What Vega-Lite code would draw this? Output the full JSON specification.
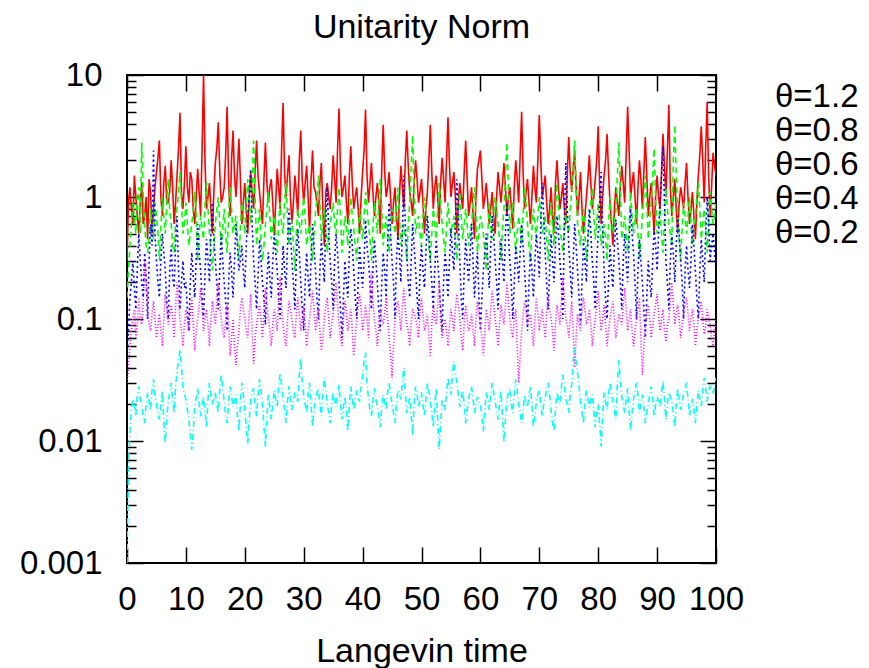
{
  "$schema": "https://vega.github.io/schema/vega-lite/v6.json",
  "width": 589,
  "height": 488,
  "autosize": {"type": "none"},
  "padding": {"left": 127, "top": 75, "right": 153, "bottom": 105},
  "title": {"text": "Unitarity Norm", "fontSize": 34, "fontWeight": "normal", "offset": 14, "color": "#000"},
  "data": {"values": [
{"t":0,"th12":0.3,"th08":0.15,"th06":0.05,"th04":0.03,"th02":0.001},
{"t":0.5,"th12":1.2,"th08":0.4,"th06":0.15,"th04":0.06,"th02":0.012},
{"t":1,"th12":0.6,"th08":0.9,"th06":0.3,"th04":0.1,"th02":0.022},
{"t":1.5,"th12":1.0,"th08":0.5,"th06":0.12,"th04":0.07,"th02":0.016},
{"t":2,"th12":0.5,"th08":1.2,"th06":0.5,"th04":0.15,"th02":0.028},
{"t":2.5,"th12":1.3,"th08":2.8,"th06":0.2,"th04":0.09,"th02":0.019},
{"t":3,"th12":0.7,"th08":0.6,"th06":0.35,"th04":0.3,"th02":0.014},
{"t":3.5,"th12":0.45,"th08":0.35,"th06":0.1,"th04":0.12,"th02":0.025},
{"t":4,"th12":1.1,"th08":0.8,"th06":0.6,"th04":0.08,"th02":0.018},
{"t":4.5,"th12":0.8,"th08":0.45,"th06":2.4,"th04":0.14,"th02":0.032},
{"t":5,"th12":1.6,"th08":0.7,"th06":0.3,"th04":0.07,"th02":0.02},
{"t":5.5,"th12":2.9,"th08":0.3,"th06":0.15,"th04":0.11,"th02":0.015},
{"t":6,"th12":0.7,"th08":1.0,"th06":0.5,"th04":0.06,"th02":0.026},
{"t":6.5,"th12":1.8,"th08":0.5,"th06":0.25,"th04":0.16,"th02":0.0096},
{"t":7,"th12":0.9,"th08":1.4,"th06":0.1,"th04":0.09,"th02":0.021},
{"t":7.5,"th12":2.0,"th08":0.6,"th06":0.4,"th04":0.13,"th02":0.03},
{"t":8,"th12":0.6,"th08":0.35,"th06":0.18,"th04":0.07,"th02":0.017},
{"t":8.5,"th12":1.5,"th08":0.8,"th06":0.7,"th04":0.2,"th02":0.038},
{"t":9,"th12":4.9,"th08":1.6,"th06":0.12,"th04":0.1,"th02":0.056},
{"t":9.5,"th12":0.8,"th08":0.5,"th06":0.3,"th04":0.06,"th02":0.028},
{"t":10,"th12":2.6,"th08":0.9,"th06":0.2,"th04":0.12,"th02":0.022},
{"t":10.5,"th12":0.9,"th08":0.4,"th06":0.08,"th04":0.08,"th02":0.015},
{"t":11,"th12":1.4,"th08":0.6,"th06":0.35,"th04":0.15,"th02":0.0085},
{"t":11.5,"th12":0.6,"th08":1.1,"th06":0.15,"th04":0.055,"th02":0.019},
{"t":12,"th12":1.7,"th08":0.3,"th06":0.6,"th04":0.1,"th02":0.027},
{"t":12.5,"th12":0.7,"th08":0.7,"th06":0.25,"th04":0.18,"th02":0.016},
{"t":13,"th12":10,"th08":0.45,"th06":0.1,"th04":0.08,"th02":0.023},
{"t":13.5,"th12":0.8,"th08":1.3,"th06":0.45,"th04":0.12,"th02":0.013},
{"t":14,"th12":1.3,"th08":0.5,"th06":0.2,"th04":0.06,"th02":0.03},
{"t":14.5,"th12":0.5,"th08":0.25,"th06":0.9,"th04":0.14,"th02":0.02},
{"t":15,"th12":1.9,"th08":0.6,"th06":0.3,"th04":0.09,"th02":0.025},
{"t":15.5,"th12":4.1,"th08":1.0,"th06":0.12,"th04":0.2,"th02":0.017},
{"t":16,"th12":0.9,"th08":0.4,"th06":0.5,"th04":0.1,"th02":0.035},
{"t":16.5,"th12":1.2,"th08":0.8,"th06":0.2,"th04":0.07,"th02":0.021},
{"t":17,"th12":5.5,"th08":0.35,"th06":0.08,"th04":0.13,"th02":0.014},
{"t":17.5,"th12":0.7,"th08":1.2,"th06":0.35,"th04":0.05,"th02":0.028},
{"t":18,"th12":3.5,"th08":0.5,"th06":0.15,"th04":0.1,"th02":0.019},
{"t":18.5,"th12":1.0,"th08":0.7,"th06":0.6,"th04":0.042,"th02":0.024},
{"t":19,"th12":3.0,"th08":0.3,"th06":0.25,"th04":0.08,"th02":0.012},
{"t":19.5,"th12":0.6,"th08":0.9,"th06":0.4,"th04":0.15,"th02":0.03},
{"t":20,"th12":1.3,"th08":0.5,"th06":0.18,"th04":0.1,"th02":0.018},
{"t":20.5,"th12":0.5,"th08":1.4,"th06":0.7,"th04":0.07,"th02":0.0095},
{"t":21,"th12":1.6,"th08":0.6,"th06":1.7,"th04":0.16,"th02":0.022},
{"t":21.5,"th12":0.8,"th08":2.9,"th06":0.3,"th04":0.043,"th02":0.027},
{"t":22,"th12":2.9,"th08":0.4,"th06":0.12,"th04":0.09,"th02":0.016},
{"t":22.5,"th12":1.1,"th08":0.8,"th06":0.45,"th04":0.13,"th02":0.032},
{"t":23,"th12":0.6,"th08":0.3,"th06":0.2,"th04":0.07,"th02":0.02},
{"t":23.5,"th12":2.8,"th08":0.6,"th06":0.09,"th04":0.18,"th02":0.009},
{"t":24,"th12":0.9,"th08":1.1,"th06":0.35,"th04":0.1,"th02":0.024},
{"t":24.5,"th12":1.4,"th08":0.45,"th06":0.15,"th04":0.06,"th02":0.015},
{"t":25,"th12":0.5,"th08":0.7,"th06":0.5,"th04":0.12,"th02":0.026},
{"t":25.5,"th12":1.7,"th08":0.35,"th06":0.25,"th04":0.08,"th02":0.019},
{"t":26,"th12":0.8,"th08":0.9,"th06":0.1,"th04":0.22,"th02":0.036},
{"t":26.5,"th12":5.9,"th08":0.5,"th06":0.4,"th04":0.09,"th02":0.022},
{"t":27,"th12":1.0,"th08":1.3,"th06":0.18,"th04":0.06,"th02":0.014},
{"t":27.5,"th12":2.2,"th08":0.4,"th06":0.8,"th04":0.14,"th02":0.028},
{"t":28,"th12":0.6,"th08":0.65,"th06":0.3,"th04":0.1,"th02":0.018},
{"t":28.5,"th12":1.5,"th08":0.25,"th06":0.12,"th04":0.07,"th02":0.025},
{"t":29,"th12":0.7,"th08":0.8,"th06":0.55,"th04":0.15,"th02":0.021},
{"t":29.5,"th12":3.5,"th08":0.5,"th06":0.2,"th04":0.08,"th02":0.048},
{"t":30,"th12":0.9,"th08":1.0,"th06":0.08,"th04":0.13,"th02":0.024},
{"t":30.5,"th12":1.8,"th08":0.4,"th06":0.35,"th04":0.06,"th02":0.017},
{"t":31,"th12":0.5,"th08":0.6,"th06":0.15,"th04":0.1,"th02":0.03},
{"t":31.5,"th12":2.4,"th08":0.3,"th06":0.6,"th04":0.17,"th02":0.013},
{"t":32,"th12":1.1,"th08":0.75,"th06":0.25,"th04":0.08,"th02":0.022},
{"t":32.5,"th12":0.7,"th08":1.5,"th06":0.1,"th04":0.12,"th02":0.027},
{"t":33,"th12":1.9,"th08":0.45,"th06":0.45,"th04":0.055,"th02":0.016},
{"t":33.5,"th12":0.4,"th08":0.8,"th06":0.2,"th04":0.1,"th02":0.033},
{"t":34,"th12":1.3,"th08":0.35,"th06":1.2,"th04":0.15,"th02":0.02},
{"t":34.5,"th12":0.8,"th08":0.6,"th06":0.3,"th04":0.07,"th02":0.014},
{"t":35,"th12":2.2,"th08":0.9,"th06":0.12,"th04":0.11,"th02":0.025},
{"t":35.5,"th12":0.9,"th08":0.5,"th06":0.5,"th04":0.2,"th02":0.019},
{"t":36,"th12":5.3,"th08":1.2,"th06":0.2,"th04":0.09,"th02":0.029},
{"t":36.5,"th12":1.0,"th08":0.35,"th06":0.07,"th04":0.06,"th02":0.015},
{"t":37,"th12":1.5,"th08":0.7,"th06":0.3,"th04":0.14,"th02":0.023},
{"t":37.5,"th12":0.6,"th08":0.4,"th06":0.15,"th04":0.08,"th02":0.012},
{"t":38,"th12":2.6,"th08":1.0,"th06":0.55,"th04":0.12,"th02":0.028},
{"t":38.5,"th12":0.8,"th08":0.55,"th06":0.25,"th04":0.05,"th02":0.018},
{"t":39,"th12":1.2,"th08":0.3,"th06":0.1,"th04":0.1,"th02":0.026},
{"t":39.5,"th12":0.5,"th08":0.8,"th06":0.4,"th04":0.16,"th02":0.021},
{"t":40,"th12":1.6,"th08":0.45,"th06":0.18,"th04":0.08,"th02":0.034},
{"t":40.5,"th12":5.2,"th08":1.1,"th06":0.65,"th04":0.13,"th02":0.053},
{"t":41,"th12":0.9,"th08":0.6,"th06":0.3,"th04":0.07,"th02":0.022},
{"t":41.5,"th12":1.9,"th08":0.3,"th06":0.12,"th04":0.25,"th02":0.016},
{"t":42,"th12":0.7,"th08":0.9,"th06":0.45,"th04":0.1,"th02":0.027},
{"t":42.5,"th12":1.3,"th08":0.5,"th06":0.2,"th04":0.06,"th02":0.019},
{"t":43,"th12":0.5,"th08":1.4,"th06":0.08,"th04":0.12,"th02":0.013},
{"t":43.5,"th12":3.9,"th08":0.4,"th06":0.35,"th04":0.09,"th02":0.024},
{"t":44,"th12":1.0,"th08":0.7,"th06":0.15,"th04":0.15,"th02":0.018},
{"t":44.5,"th12":1.6,"th08":0.35,"th06":0.9,"th04":0.07,"th02":0.03},
{"t":45,"th12":0.6,"th08":0.8,"th06":0.3,"th04":0.033,"th02":0.02},
{"t":45.5,"th12":1.2,"th08":0.5,"th06":0.1,"th04":0.1,"th02":0.014},
{"t":46,"th12":0.45,"th08":1.2,"th06":0.5,"th04":0.14,"th02":0.026},
{"t":46.5,"th12":1.8,"th08":0.4,"th06":0.2,"th04":0.08,"th02":0.022},
{"t":47,"th12":0.8,"th08":0.6,"th06":1.5,"th04":0.18,"th02":0.04},
{"t":47.5,"th12":3.5,"th08":0.3,"th06":0.35,"th04":0.09,"th02":0.017},
{"t":48,"th12":1.1,"th08":0.9,"th06":0.15,"th04":0.06,"th02":0.023},
{"t":48.5,"th12":0.7,"th08":3.2,"th06":0.6,"th04":0.12,"th02":0.011},
{"t":49,"th12":2.0,"th08":0.5,"th06":0.25,"th04":0.1,"th02":0.028},
{"t":49.5,"th12":0.9,"th08":0.7,"th06":0.1,"th04":0.07,"th02":0.019},
{"t":50,"th12":1.4,"th08":0.4,"th06":0.4,"th04":0.15,"th02":0.025},
{"t":50.5,"th12":0.5,"th08":1.0,"th06":0.18,"th04":0.08,"th02":0.016},
{"t":51,"th12":1.1,"th08":0.55,"th06":0.7,"th04":0.11,"th02":0.03},
{"t":51.5,"th12":3.9,"th08":0.3,"th06":0.3,"th04":0.05,"th02":0.021},
{"t":52,"th12":0.8,"th08":0.8,"th06":0.12,"th04":0.13,"th02":0.013},
{"t":52.5,"th12":1.5,"th08":0.45,"th06":0.45,"th04":0.09,"th02":0.027},
{"t":53,"th12":0.6,"th08":1.3,"th06":0.2,"th04":0.2,"th02":0.0085},
{"t":53.5,"th12":2.1,"th08":0.6,"th06":0.08,"th04":0.07,"th02":0.022},
{"t":54,"th12":0.9,"th08":0.35,"th06":0.35,"th04":0.1,"th02":0.018},
{"t":54.5,"th12":4.5,"th08":0.9,"th06":0.15,"th04":0.06,"th02":0.033},
{"t":55,"th12":1.0,"th08":0.5,"th06":0.55,"th04":0.12,"th02":0.024},
{"t":55.5,"th12":1.6,"th08":0.7,"th06":0.25,"th04":0.08,"th02":0.045},
{"t":56,"th12":0.5,"th08":0.3,"th06":1.4,"th04":0.16,"th02":0.03},
{"t":56.5,"th12":1.3,"th08":1.1,"th06":0.3,"th04":0.1,"th02":0.019},
{"t":57,"th12":0.8,"th08":0.45,"th06":0.1,"th04":0.055,"th02":0.026},
{"t":57.5,"th12":2.9,"th08":0.8,"th06":0.45,"th04":0.13,"th02":0.014},
{"t":58,"th12":0.7,"th08":0.4,"th06":0.2,"th04":0.08,"th02":0.022},
{"t":58.5,"th12":1.2,"th08":0.6,"th06":0.6,"th04":0.11,"th02":0.028},
{"t":59,"th12":0.45,"th08":1.2,"th06":0.15,"th04":0.06,"th02":0.017},
{"t":59.5,"th12":1.7,"th08":0.35,"th06":0.35,"th04":0.14,"th02":0.023},
{"t":60,"th12":2.4,"th08":0.7,"th06":0.08,"th04":0.09,"th02":0.02},
{"t":60.5,"th12":0.8,"th08":0.5,"th06":0.25,"th04":0.05,"th02":0.012},
{"t":61,"th12":1.3,"th08":0.25,"th06":0.5,"th04":0.12,"th02":0.025},
{"t":61.5,"th12":0.6,"th08":0.9,"th06":0.18,"th04":0.08,"th02":0.018},
{"t":62,"th12":1.1,"th08":0.45,"th06":0.7,"th04":0.17,"th02":0.03},
{"t":62.5,"th12":0.5,"th08":1.0,"th06":0.3,"th04":0.1,"th02":0.021},
{"t":63,"th12":1.6,"th08":0.6,"th06":0.12,"th04":0.06,"th02":0.015},
{"t":63.5,"th12":0.9,"th08":0.3,"th06":0.45,"th04":0.13,"th02":0.026},
{"t":64,"th12":1.9,"th08":0.8,"th06":0.2,"th04":0.09,"th02":0.0097},
{"t":64.5,"th12":0.7,"th08":2.8,"th06":0.9,"th04":0.2,"th02":0.022},
{"t":65,"th12":1.2,"th08":0.5,"th06":0.3,"th04":0.1,"th02":0.027},
{"t":65.5,"th12":0.55,"th08":0.9,"th06":0.1,"th04":0.07,"th02":0.017},
{"t":66,"th12":2.0,"th08":0.35,"th06":0.4,"th04":0.12,"th02":0.032},
{"t":66.5,"th12":0.9,"th08":0.7,"th06":0.2,"th04":0.03,"th02":0.02},
{"t":67,"th12":5.0,"th08":0.4,"th06":0.6,"th04":0.08,"th02":0.014},
{"t":67.5,"th12":0.8,"th08":1.2,"th06":0.25,"th04":0.14,"th02":0.024},
{"t":68,"th12":1.4,"th08":0.6,"th06":0.08,"th04":0.09,"th02":0.019},
{"t":68.5,"th12":0.6,"th08":0.3,"th06":0.35,"th04":0.11,"th02":0.028},
{"t":69,"th12":1.8,"th08":0.8,"th06":0.15,"th04":0.06,"th02":0.013},
{"t":69.5,"th12":0.9,"th08":0.45,"th06":0.5,"th04":0.15,"th02":0.021},
{"t":70,"th12":4.7,"th08":1.0,"th06":0.22,"th04":0.08,"th02":0.026},
{"t":70.5,"th12":1.0,"th08":0.5,"th06":1.3,"th04":0.12,"th02":0.016},
{"t":71,"th12":1.5,"th08":0.7,"th06":0.35,"th04":0.07,"th02":0.023},
{"t":71.5,"th12":0.6,"th08":0.3,"th06":0.12,"th04":0.16,"th02":0.03},
{"t":72,"th12":1.2,"th08":0.9,"th06":0.5,"th04":0.1,"th02":0.018},
{"t":72.5,"th12":0.5,"th08":0.4,"th06":0.2,"th04":0.055,"th02":0.012},
{"t":73,"th12":2.0,"th08":1.3,"th06":0.7,"th04":0.13,"th02":0.025},
{"t":73.5,"th12":0.8,"th08":0.55,"th06":0.3,"th04":0.09,"th02":0.02},
{"t":74,"th12":1.3,"th08":0.35,"th06":0.1,"th04":0.22,"th02":0.035},
{"t":74.5,"th12":0.6,"th08":0.8,"th06":1.9,"th04":0.1,"th02":0.022},
{"t":75,"th12":3.1,"th08":0.5,"th06":0.4,"th04":0.07,"th02":0.017},
{"t":75.5,"th12":1.1,"th08":1.1,"th06":0.15,"th04":0.14,"th02":0.029},
{"t":76,"th12":2.4,"th08":2.9,"th06":0.6,"th04":0.04,"th02":0.058},
{"t":76.5,"th12":0.7,"th08":0.6,"th06":0.25,"th04":0.11,"th02":0.036},
{"t":77,"th12":1.6,"th08":0.4,"th06":0.09,"th04":0.08,"th02":0.021},
{"t":77.5,"th12":0.5,"th08":0.8,"th06":0.45,"th04":0.15,"th02":0.014},
{"t":78,"th12":1.0,"th08":0.3,"th06":0.2,"th04":0.09,"th02":0.026},
{"t":78.5,"th12":2.2,"th08":0.7,"th06":0.8,"th04":0.12,"th02":0.019},
{"t":79,"th12":0.8,"th08":1.2,"th06":0.3,"th04":0.06,"th02":0.024},
{"t":79.5,"th12":1.4,"th08":0.45,"th06":0.12,"th04":0.1,"th02":0.013},
{"t":80,"th12":3.8,"th08":0.9,"th06":0.5,"th04":0.17,"th02":0.02},
{"t":80.5,"th12":0.6,"th08":0.4,"th06":1.6,"th04":0.08,"th02":0.009},
{"t":81,"th12":1.5,"th08":0.6,"th06":0.25,"th04":0.13,"th02":0.025},
{"t":81.5,"th12":3.3,"th08":0.3,"th06":0.1,"th04":0.06,"th02":0.018},
{"t":82,"th12":0.9,"th08":1.0,"th06":0.4,"th04":0.1,"th02":0.03},
{"t":82.5,"th12":0.4,"th08":0.5,"th06":0.18,"th04":0.14,"th02":0.021},
{"t":83,"th12":1.2,"th08":0.8,"th06":0.65,"th04":0.07,"th02":0.015},
{"t":83.5,"th12":0.7,"th08":2.8,"th06":0.3,"th04":0.11,"th02":0.046},
{"t":84,"th12":1.8,"th08":0.45,"th06":0.12,"th04":0.09,"th02":0.023},
{"t":84.5,"th12":0.9,"th08":0.7,"th06":0.5,"th04":0.18,"th02":0.017},
{"t":85,"th12":5.5,"th08":0.35,"th06":0.2,"th04":0.08,"th02":0.027},
{"t":85.5,"th12":1.0,"th08":1.1,"th06":0.8,"th04":0.12,"th02":0.012},
{"t":86,"th12":1.6,"th08":0.5,"th06":0.35,"th04":0.06,"th02":0.022},
{"t":86.5,"th12":0.6,"th08":0.8,"th06":0.1,"th04":0.1,"th02":0.03},
{"t":87,"th12":2.0,"th08":0.3,"th06":0.45,"th04":0.15,"th02":0.017},
{"t":87.5,"th12":0.8,"th08":0.7,"th06":0.2,"th04":0.035,"th02":0.024},
{"t":88,"th12":3.1,"th08":1.5,"th06":0.07,"th04":0.09,"th02":0.014},
{"t":88.5,"th12":0.7,"th08":0.45,"th06":0.3,"th04":0.13,"th02":0.02},
{"t":89,"th12":1.3,"th08":0.9,"th06":0.15,"th04":0.07,"th02":0.028},
{"t":89.5,"th12":0.5,"th08":2.5,"th06":0.55,"th04":0.11,"th02":0.016},
{"t":90,"th12":1.5,"th08":0.5,"th06":0.25,"th04":0.16,"th02":0.023},
{"t":90.5,"th12":0.8,"th08":0.8,"th06":0.9,"th04":0.08,"th02":0.019},
{"t":91,"th12":3.3,"th08":0.35,"th06":2.6,"th04":0.12,"th02":0.031},
{"t":91.5,"th12":1.0,"th08":1.2,"th06":0.3,"th04":0.065,"th02":0.015},
{"t":92,"th12":5.7,"th08":0.6,"th06":0.12,"th04":0.1,"th02":0.025},
{"t":92.5,"th12":0.7,"th08":0.4,"th06":0.5,"th04":0.2,"th02":0.021},
{"t":93,"th12":1.4,"th08":3.9,"th06":0.2,"th04":0.09,"th02":0.013},
{"t":93.5,"th12":0.5,"th08":0.7,"th06":0.7,"th04":0.13,"th02":0.027},
{"t":94,"th12":1.2,"th08":0.3,"th06":0.3,"th04":0.07,"th02":0.018},
{"t":94.5,"th12":0.8,"th08":0.9,"th06":0.1,"th04":0.11,"th02":0.024},
{"t":95,"th12":1.9,"th08":0.5,"th06":0.4,"th04":0.15,"th02":0.03},
{"t":95.5,"th12":0.6,"th08":1.0,"th06":0.18,"th04":0.08,"th02":0.016},
{"t":96,"th12":1.1,"th08":0.4,"th06":0.6,"th04":0.12,"th02":0.022},
{"t":96.5,"th12":0.45,"th08":0.7,"th06":0.25,"th04":0.06,"th02":0.014},
{"t":97,"th12":1.5,"th08":1.3,"th06":0.1,"th04":0.1,"th02":0.026},
{"t":97.5,"th12":3.8,"th08":0.45,"th06":0.45,"th04":0.14,"th02":0.019},
{"t":98,"th12":0.9,"th08":0.8,"th06":0.2,"th04":0.075,"th02":0.033},
{"t":98.5,"th12":6.0,"th08":0.35,"th06":1.0,"th04":0.12,"th02":0.021},
{"t":99,"th12":0.7,"th08":1.1,"th06":0.3,"th04":0.09,"th02":0.028},
{"t":99.5,"th12":2.3,"th08":0.6,"th06":0.5,"th04":0.06,"th02":0.024},
{"t":100,"th12":1.5,"th08":0.9,"th06":0.25,"th04":0.1,"th02":0.033},
{"t":0.25,"th12":0.9,"th08":0.25,"th06":0.08,"th04":0.04,"th02":0.006},
{"t":0.75,"th12":0.8,"th08":0.6,"th06":0.2,"th04":0.08,"th02":0.018},
{"t":1.25,"th12":1.5,"th08":0.7,"th06":0.18,"th04":0.12,"th02":0.02},
{"t":1.75,"th12":0.7,"th08":1.0,"th06":0.25,"th04":0.09,"th02":0.024},
{"t":2.25,"th12":0.9,"th08":0.5,"th06":0.3,"th04":0.1,"th02":0.022},
{"t":2.75,"th12":0.6,"th08":1.1,"th06":0.15,"th04":0.14,"th02":0.016},
{"t":3.25,"th12":1.0,"th08":0.4,"th06":0.22,"th04":0.2,"th02":0.02},
{"t":3.75,"th12":1.4,"th08":0.5,"th06":0.3,"th04":0.09,"th02":0.021},
{"t":4.25,"th12":0.5,"th08":0.6,"th06":0.4,"th04":0.11,"th02":0.026},
{"t":4.75,"th12":1.2,"th08":0.9,"th06":0.5,"th04":0.1,"th02":0.024},
{"t":5.25,"th12":2.1,"th08":0.5,"th06":0.2,"th04":0.09,"th02":0.017},
{"t":5.75,"th12":1.0,"th08":0.55,"th06":0.3,"th04":0.08,"th02":0.02},
{"t":6.25,"th12":1.3,"th08":0.7,"th06":0.35,"th04":0.1,"th02":0.014},
{"t":6.75,"th12":0.9,"th08":0.9,"th06":0.14,"th04":0.12,"th02":0.016},
{"t":7.25,"th12":1.1,"th08":0.8,"th06":0.25,"th04":0.11,"th02":0.025},
{"t":7.75,"th12":1.2,"th08":0.4,"th06":0.22,"th04":0.1,"th02":0.022},
{"t":8.25,"th12":0.9,"th08":0.6,"th06":0.4,"th04":0.13,"th02":0.028},
{"t":8.75,"th12":2.5,"th08":1.1,"th06":0.25,"th04":0.14,"th02":0.045},
{"t":9.25,"th12":1.1,"th08":0.9,"th06":0.2,"th04":0.08,"th02":0.04},
{"t":9.75,"th12":1.3,"th08":0.6,"th06":0.18,"th04":0.09,"th02":0.024},
{"t":10.25,"th12":1.2,"th08":0.6,"th06":0.12,"th04":0.1,"th02":0.018},
{"t":10.75,"th12":1.6,"th08":0.5,"th06":0.2,"th04":0.11,"th02":0.011},
{"t":11.25,"th12":0.8,"th08":0.8,"th06":0.22,"th04":0.09,"th02":0.012},
{"t":11.75,"th12":1.0,"th08":0.7,"th06":0.3,"th04":0.08,"th02":0.023},
{"t":12.25,"th12":1.1,"th08":0.5,"th06":0.35,"th04":0.13,"th02":0.02},
{"t":12.75,"th12":2.5,"th08":0.55,"th06":0.15,"th04":0.12,"th02":0.02},
{"t":13.25,"th12":1.9,"th08":0.9,"th06":0.25,"th04":0.1,"th02":0.017},
{"t":13.75,"th12":1.0,"th08":0.8,"th06":0.3,"th04":0.09,"th02":0.022},
{"t":14.25,"th12":0.8,"th08":0.35,"th06":0.5,"th04":0.1,"th02":0.024},
{"t":14.75,"th12":1.1,"th08":0.4,"th06":0.45,"th04":0.11,"th02":0.022},
{"t":15.25,"th12":2.5,"th08":0.8,"th06":0.2,"th04":0.14,"th02":0.02},
{"t":15.75,"th12":1.6,"th08":0.6,"th06":0.25,"th04":0.13,"th02":0.026},
{"t":16.25,"th12":1.0,"th08":0.55,"th06":0.3,"th04":0.08,"th02":0.028},
{"t":16.75,"th12":2.2,"th08":0.5,"th06":0.14,"th04":0.1,"th02":0.016},
{"t":17.25,"th12":1.4,"th08":0.7,"th06":0.2,"th04":0.09,"th02":0.02},
{"t":17.75,"th12":2.0,"th08":0.8,"th06":0.25,"th04":0.07,"th02":0.024},
{"t":18.25,"th12":1.5,"th08":0.6,"th06":0.3,"th04":0.06,"th02":0.021},
{"t":18.75,"th12":1.7,"th08":0.45,"th06":0.4,"th04":0.06,"th02":0.016},
{"t":19.25,"th12":1.4,"th08":0.55,"th06":0.3,"th04":0.12,"th02":0.02},
{"t":19.75,"th12":0.9,"th08":0.7,"th06":0.25,"th04":0.12,"th02":0.024},
{"t":20.25,"th12":0.8,"th08":0.9,"th06":0.4,"th04":0.08,"th02":0.013},
{"t":20.75,"th12":1.0,"th08":0.9,"th06":1.0,"th04":0.11,"th02":0.015},
{"t":21.25,"th12":1.1,"th08":1.2,"th06":0.6,"th04":0.08,"th02":0.025},
{"t":21.75,"th12":1.6,"th08":1.0,"th06":0.2,"th04":0.07,"th02":0.02},
{"t":22.25,"th12":1.5,"th08":0.6,"th06":0.22,"th04":0.11,"th02":0.024},
{"t":22.75,"th12":0.8,"th08":0.45,"th06":0.3,"th04":0.1,"th02":0.026},
{"t":23.25,"th12":1.4,"th08":0.4,"th06":0.15,"th04":0.12,"th02":0.013},
{"t":23.75,"th12":1.3,"th08":0.8,"th06":0.2,"th04":0.14,"th02":0.016},
{"t":24.25,"th12":1.2,"th08":0.7,"th06":0.22,"th04":0.08,"th02":0.019},
{"t":24.75,"th12":0.9,"th08":0.6,"th06":0.3,"th04":0.09,"th02":0.02},
{"t":25.25,"th12":0.9,"th08":0.5,"th06":0.35,"th04":0.1,"th02":0.022},
{"t":25.75,"th12":1.2,"th08":0.6,"th06":0.15,"th04":0.14,"th02":0.028},
{"t":26.25,"th12":2.5,"th08":0.6,"th06":0.2,"th04":0.12,"th02":0.028},
{"t":26.75,"th12":1.6,"th08":0.9,"th06":0.25,"th04":0.07,"th02":0.018},
{"t":27.25,"th12":1.5,"th08":0.7,"th06":0.4,"th04":0.1,"th02":0.021},
{"t":27.75,"th12":1.0,"th08":0.55,"th06":0.5,"th04":0.12,"th02":0.022},
{"t":28.25,"th12":0.9,"th08":0.4,"th06":0.2,"th04":0.08,"th02":0.021},
{"t":28.75,"th12":1.1,"th08":0.5,"th06":0.3,"th04":0.11,"th02":0.023},
{"t":29.25,"th12":2.0,"th08":0.6,"th06":0.35,"th04":0.11,"th02":0.035},
{"t":29.75,"th12":1.4,"th08":0.7,"th06":0.12,"th04":0.1,"th02":0.03},
{"t":30.25,"th12":1.3,"th08":0.7,"th06":0.2,"th04":0.09,"th02":0.02},
{"t":30.75,"th12":1.0,"th08":0.5,"th06":0.22,"th04":0.08,"th02":0.024},
{"t":31.25,"th12":1.4,"th08":0.4,"th06":0.3,"th04":0.13,"th02":0.02},
{"t":31.75,"th12":1.2,"th08":0.5,"th06":0.4,"th04":0.12,"th02":0.018},
{"t":32.25,"th12":0.9,"th08":1.0,"th06":0.15,"th04":0.1,"th02":0.025},
{"t":32.75,"th12":1.3,"th08":0.9,"th06":0.25,"th04":0.08,"th02":0.02},
{"t":33.25,"th12":0.8,"th08":0.6,"th06":0.3,"th04":0.07,"th02":0.025},
{"t":33.75,"th12":1.1,"th08":0.55,"th06":0.6,"th04":0.13,"th02":0.026},
{"t":34.25,"th12":1.0,"th08":0.5,"th06":0.5,"th04":0.1,"th02":0.017},
{"t":34.75,"th12":1.2,"th08":0.75,"th06":0.2,"th04":0.09,"th02":0.02},
{"t":35.25,"th12":1.4,"th08":0.6,"th06":0.3,"th04":0.15,"th02":0.022},
{"t":35.75,"th12":2.5,"th08":0.8,"th06":0.35,"th04":0.13,"th02":0.024},
{"t":36.25,"th12":1.6,"th08":0.7,"th06":0.12,"th04":0.07,"th02":0.02},
{"t":36.75,"th12":1.2,"th08":0.5,"th06":0.15,"th04":0.1,"th02":0.019},
{"t":37.25,"th12":0.9,"th08":0.55,"th06":0.2,"th04":0.11,"th02":0.017},
{"t":37.75,"th12":1.5,"th08":0.7,"th06":0.35,"th04":0.1,"th02":0.02},
{"t":38.25,"th12":1.3,"th08":0.7,"th06":0.4,"th04":0.08,"th02":0.022},
{"t":38.75,"th12":1.0,"th08":0.4,"th06":0.15,"th04":0.07,"th02":0.022},
{"t":39.25,"th12":0.8,"th08":0.5,"th06":0.2,"th04":0.13,"th02":0.023},
{"t":39.75,"th12":1.0,"th08":0.6,"th06":0.25,"th04":0.12,"th02":0.028},
{"t":40.25,"th12":2.4,"th08":0.7,"th06":0.3,"th04":0.1,"th02":0.045},
{"t":40.75,"th12":1.5,"th08":0.8,"th06":0.4,"th04":0.1,"th02":0.03},
{"t":41.25,"th12":1.3,"th08":0.45,"th06":0.2,"th04":0.16,"th02":0.018},
{"t":41.75,"th12":1.1,"th08":0.55,"th06":0.25,"th04":0.14,"th02":0.021},
{"t":42.25,"th12":1.0,"th08":0.7,"th06":0.3,"th04":0.08,"th02":0.022},
{"t":42.75,"th12":0.9,"th08":0.9,"th06":0.12,"th04":0.09,"th02":0.016},
{"t":43.25,"th12":1.7,"th08":0.8,"th06":0.2,"th04":0.1,"th02":0.019},
{"t":43.75,"th12":1.6,"th08":0.55,"th06":0.25,"th04":0.11,"th02":0.021},
{"t":44.25,"th12":1.2,"th08":0.5,"th06":0.4,"th04":0.1,"th02":0.025},
{"t":44.75,"th12":1.0,"th08":0.6,"th06":0.5,"th04":0.05,"th02":0.024},
{"t":45.25,"th12":0.9,"th08":0.65,"th06":0.2,"th04":0.06,"th02":0.017},
{"t":45.75,"th12":0.7,"th08":0.8,"th06":0.3,"th04":0.12,"th02":0.02},
{"t":46.25,"th12":1.0,"th08":0.7,"th06":0.35,"th04":0.11,"th02":0.024},
{"t":46.75,"th12":1.2,"th08":0.5,"th06":0.5,"th04":0.13,"th02":0.03},
{"t":47.25,"th12":2.0,"th08":0.45,"th06":0.6,"th04":0.12,"th02":0.025},
{"t":47.75,"th12":1.8,"th08":0.6,"th06":0.2,"th04":0.08,"th02":0.02},
{"t":48.25,"th12":0.9,"th08":1.8,"th06":0.3,"th04":0.09,"th02":0.016},
{"t":48.75,"th12":1.3,"th08":1.1,"th06":0.4,"th04":0.11,"th02":0.02},
{"t":49.25,"th12":1.4,"th08":0.6,"th06":0.15,"th04":0.09,"th02":0.024},
{"t":49.75,"th12":1.1,"th08":0.5,"th06":0.25,"th04":0.11,"th02":0.022},
{"t":50.25,"th12":0.9,"th08":0.7,"th06":0.25,"th04":0.11,"th02":0.02},
{"t":50.75,"th12":0.8,"th08":0.75,"th06":0.35,"th04":0.09,"th02":0.022},
{"t":51.25,"th12":2.0,"th08":0.4,"th06":0.5,"th04":0.07,"th02":0.026},
{"t":51.75,"th12":1.6,"th08":0.5,"th06":0.2,"th04":0.09,"th02":0.017},
{"t":52.25,"th12":1.2,"th08":0.6,"th06":0.25,"th04":0.1,"th02":0.02},
{"t":52.75,"th12":1.0,"th08":0.8,"th06":0.3,"th04":0.13,"th02":0.015},
{"t":53.25,"th12":1.3,"th08":0.9,"th06":0.12,"th04":0.1,"th02":0.014},
{"t":53.75,"th12":1.4,"th08":0.45,"th06":0.2,"th04":0.09,"th02":0.02},
{"t":54.25,"th12":2.0,"th08":0.55,"th06":0.25,"th04":0.08,"th02":0.025},
{"t":54.75,"th12":1.8,"th08":0.6,"th06":0.3,"th04":0.09,"th02":0.028},
{"t":55.25,"th12":1.3,"th08":0.6,"th06":0.35,"th04":0.1,"th02":0.035},
{"t":55.75,"th12":1.0,"th08":0.45,"th06":0.6,"th04":0.12,"th02":0.036},
{"t":56.25,"th12":0.9,"th08":0.6,"th06":0.7,"th04":0.13,"th02":0.024},
{"t":56.75,"th12":1.0,"th08":0.7,"th06":0.15,"th04":0.07,"th02":0.022},
{"t":57.25,"th12":1.6,"th08":0.6,"th06":0.25,"th04":0.09,"th02":0.02},
{"t":57.75,"th12":1.4,"th08":0.6,"th06":0.3,"th04":0.1,"th02":0.018},
{"t":58.25,"th12":0.9,"th08":0.5,"th06":0.35,"th04":0.09,"th02":0.025},
{"t":58.75,"th12":0.7,"th08":0.9,"th06":0.3,"th04":0.08,"th02":0.022},
{"t":59.25,"th12":1.0,"th08":0.7,"th06":0.25,"th04":0.1,"th02":0.02},
{"t":59.75,"th12":2.0,"th08":0.5,"th06":0.15,"th04":0.11,"th02":0.021},
{"t":60.25,"th12":1.4,"th08":0.6,"th06":0.15,"th04":0.07,"th02":0.016},
{"t":60.75,"th12":1.0,"th08":0.35,"th06":0.35,"th04":0.08,"th02":0.018},
{"t":61.25,"th12":0.9,"th08":0.5,"th06":0.3,"th04":0.1,"th02":0.022},
{"t":61.75,"th12":0.8,"th08":0.6,"th06":0.4,"th04":0.12,"th02":0.024},
{"t":62.25,"th12":0.7,"th08":0.7,"th06":0.5,"th04":0.13,"th02":0.025},
{"t":62.75,"th12":1.0,"th08":0.8,"th06":0.2,"th04":0.08,"th02":0.018},
{"t":63.25,"th12":1.2,"th08":0.45,"th06":0.3,"th04":0.09,"th02":0.02},
{"t":63.75,"th12":1.3,"th08":0.55,"th06":0.3,"th04":0.11,"th02":0.016},
{"t":64.25,"th12":1.2,"th08":1.5,"th06":0.5,"th04":0.13,"th02":0.015},
{"t":64.75,"th12":1.0,"th08":1.2,"th06":0.5,"th04":0.14,"th02":0.025},
{"t":65.25,"th12":0.8,"th08":0.7,"th06":0.2,"th04":0.08,"th02":0.02},
{"t":65.75,"th12":1.2,"th08":0.55,"th06":0.2,"th04":0.1,"th02":0.024},
{"t":66.25,"th12":1.4,"th08":0.5,"th06":0.3,"th04":0.06,"th02":0.026},
{"t":66.75,"th12":2.2,"th08":0.55,"th06":0.35,"th04":0.05,"th02":0.017},
{"t":67.25,"th12":1.6,"th08":0.7,"th06":0.4,"th04":0.11,"th02":0.018},
{"t":67.75,"th12":1.1,"th08":0.9,"th06":0.15,"th04":0.12,"th02":0.02},
{"t":68.25,"th12":0.9,"th08":0.4,"th06":0.2,"th04":0.1,"th02":0.024},
{"t":68.75,"th12":1.0,"th08":0.55,"th06":0.25,"th04":0.08,"th02":0.02},
{"t":69.25,"th12":1.2,"th08":0.6,"th06":0.3,"th04":0.1,"th02":0.016},
{"t":69.75,"th12":2.0,"th08":0.7,"th06":0.35,"th04":0.11,"th02":0.024},
{"t":70.25,"th12":2.0,"th08":0.7,"th06":0.6,"th04":0.1,"th02":0.02},
{"t":70.75,"th12":1.2,"th08":0.6,"th06":0.7,"th04":0.09,"th02":0.02},
{"t":71.25,"th12":0.9,"th08":0.45,"th06":0.2,"th04":0.11,"th02":0.026},
{"t":71.75,"th12":0.8,"th08":0.6,"th06":0.25,"th04":0.12,"th02":0.024},
{"t":72.25,"th12":0.7,"th08":0.6,"th06":0.3,"th04":0.08,"th02":0.014},
{"t":72.75,"th12":1.3,"th08":0.8,"th06":0.4,"th04":0.09,"th02":0.018},
{"t":73.25,"th12":1.2,"th08":0.9,"th06":0.5,"th04":0.11,"th02":0.022},
{"t":73.75,"th12":1.0,"th08":0.45,"th06":0.2,"th04":0.14,"th02":0.028},
{"t":74.25,"th12":0.8,"th08":0.55,"th06":0.6,"th04":0.15,"th02":0.028},
{"t":74.75,"th12":1.5,"th08":0.6,"th06":0.8,"th04":0.09,"th02":0.02},
{"t":75.25,"th12":1.6,"th08":0.8,"th06":0.25,"th04":0.1,"th02":0.024},
{"t":75.75,"th12":1.7,"th08":1.8,"th06":0.3,"th04":0.08,"th02":0.045},
{"t":76.25,"th12":1.2,"th08":1.2,"th06":0.4,"th04":0.07,"th02":0.045},
{"t":76.75,"th12":1.0,"th08":0.5,"th06":0.15,"th04":0.09,"th02":0.028},
{"t":77.25,"th12":0.8,"th08":0.6,"th06":0.2,"th04":0.12,"th02":0.017},
{"t":77.75,"th12":0.7,"th08":0.5,"th06":0.3,"th04":0.12,"th02":0.02},
{"t":78.25,"th12":1.4,"th08":0.45,"th06":0.45,"th04":0.1,"th02":0.022},
{"t":78.75,"th12":1.3,"th08":0.9,"th06":0.5,"th04":0.09,"th02":0.022},
{"t":79.25,"th12":1.0,"th08":0.7,"th06":0.2,"th04":0.08,"th02":0.018},
{"t":79.75,"th12":2.0,"th08":0.6,"th06":0.3,"th04":0.13,"th02":0.017},
{"t":80.25,"th12":1.2,"th08":0.6,"th06":0.9,"th04":0.11,"th02":0.014},
{"t":80.75,"th12":1.0,"th08":0.5,"th06":0.6,"th04":0.1,"th02":0.016},
{"t":81.25,"th12":2.0,"th08":0.45,"th06":0.15,"th04":0.09,"th02":0.021},
{"t":81.75,"th12":1.6,"th08":0.6,"th06":0.2,"th04":0.08,"th02":0.024},
{"t":82.25,"th12":0.6,"th08":0.7,"th06":0.25,"th04":0.12,"th02":0.025},
{"t":82.75,"th12":0.8,"th08":0.6,"th06":0.4,"th04":0.1,"th02":0.018},
{"t":83.25,"th12":0.9,"th08":1.5,"th06":0.45,"th04":0.09,"th02":0.03},
{"t":83.75,"th12":1.2,"th08":1.2,"th06":0.2,"th04":0.1,"th02":0.032},
{"t":84.25,"th12":1.3,"th08":0.55,"th06":0.3,"th04":0.13,"th02":0.02},
{"t":84.75,"th12":2.2,"th08":0.5,"th06":0.3,"th04":0.12,"th02":0.022},
{"t":85.25,"th12":2.4,"th08":0.6,"th06":0.45,"th04":0.1,"th02":0.018},
{"t":85.75,"th12":1.3,"th08":0.7,"th06":0.5,"th04":0.08,"th02":0.017},
{"t":86.25,"th12":1.0,"th08":0.65,"th06":0.2,"th04":0.08,"th02":0.026},
{"t":86.75,"th12":1.2,"th08":0.5,"th06":0.25,"th04":0.12,"th02":0.024},
{"t":87.25,"th12":1.4,"th08":0.45,"th06":0.3,"th04":0.07,"th02":0.02},
{"t":87.75,"th12":1.6,"th08":1.0,"th06":0.12,"th04":0.06,"th02":0.019},
{"t":88.25,"th12":1.5,"th08":0.9,"th06":0.15,"th04":0.11,"th02":0.017},
{"t":88.75,"th12":1.0,"th08":0.65,"th06":0.2,"th04":0.1,"th02":0.024},
{"t":89.25,"th12":0.8,"th08":1.4,"th06":0.3,"th04":0.09,"th02":0.022},
{"t":89.75,"th12":1.0,"th08":1.0,"th06":0.4,"th04":0.13,"th02":0.02},
{"t":90.25,"th12":1.0,"th08":0.6,"th06":0.5,"th04":0.11,"th02":0.021},
{"t":90.75,"th12":1.6,"th08":0.5,"th06":1.5,"th04":0.1,"th02":0.025},
{"t":91.25,"th12":1.8,"th08":0.7,"th06":0.9,"th04":0.08,"th02":0.022},
{"t":91.75,"th12":2.4,"th08":0.8,"th06":0.2,"th04":0.09,"th02":0.02},
{"t":92.25,"th12":1.2,"th08":0.5,"th06":0.3,"th04":0.14,"th02":0.023},
{"t":92.75,"th12":1.0,"th08":2.0,"th06":0.35,"th04":0.13,"th02":0.017},
{"t":93.25,"th12":0.8,"th08":1.5,"th06":0.4,"th04":0.11,"th02":0.02},
{"t":93.75,"th12":0.9,"th08":0.45,"th06":0.5,"th04":0.1,"th02":0.022},
{"t":94.25,"th12":1.0,"th08":0.55,"th06":0.2,"th04":0.09,"th02":0.021},
{"t":94.75,"th12":1.3,"th08":0.7,"th06":0.25,"th04":0.13,"th02":0.027},
{"t":95.25,"th12":1.0,"th08":0.7,"th06":0.25,"th04":0.11,"th02":0.022},
{"t":95.75,"th12":0.8,"th08":0.6,"th06":0.3,"th04":0.1,"th02":0.019},
{"t":96.25,"th12":0.7,"th08":0.55,"th06":0.4,"th04":0.09,"th02":0.018},
{"t":96.75,"th12":0.9,"th08":1.0,"th06":0.15,"th04":0.08,"th02":0.02},
{"t":97.25,"th12":2.2,"th08":0.8,"th06":0.25,"th04":0.12,"th02":0.022},
{"t":97.75,"th12":2.0,"th08":0.6,"th06":0.3,"th04":0.1,"th02":0.026},
{"t":98.25,"th12":2.5,"th08":0.55,"th06":0.5,"th04":0.09,"th02":0.027},
{"t":98.75,"th12":1.5,"th08":0.6,"th06":0.6,"th04":0.1,"th02":0.025},
{"t":99.25,"th12":1.2,"th08":0.8,"th06":0.4,"th04":0.07,"th02":0.026},
{"t":99.75,"th12":1.8,"th08":0.7,"th06":0.35,"th04":0.08,"th02":0.028}
  ]},
  "transform": [{"fold": ["th12", "th08", "th06", "th04", "th02"], "as": ["series", "value"]}],
  "layer": [
    {
      "mark": {"type": "line", "strokeWidth": 1.6, "clip": true},
      "encoding": {
        "x": {
          "field": "t", "type": "quantitative",
          "scale": {"domain": [0, 100], "nice": false, "zero": false},
          "axis": {
            "orient": "bottom", "values": [0, 10, 20, 30, 40, 50, 60, 70, 80, 90, 100],
            "tickSize": -16, "labelPadding": 36, "labelFlush": false, "labelOverlap": false,
            "title": "Langevin time", "titlePadding": 18
          }
        },
        "y": {
          "field": "value", "type": "quantitative",
          "scale": {"type": "log", "domain": [0.001, 10], "nice": false},
          "axis": {
            "orient": "left",
            "values": [0.001,0.002,0.003,0.004,0.005,0.006,0.007,0.008,0.009,0.01,0.02,0.03,0.04,0.05,0.06,0.07,0.08,0.09,0.1,0.2,0.3,0.4,0.5,0.6,0.7,0.8,0.9,1,2,3,4,5,6,7,8,9,10],
            "tickSize": {"condition": {"test": "indexof([0.001,0.01,0.1,1,10], datum.value) >= 0", "value": -16}, "value": -9},
            "labelExpr": "datum.value == 10 ? '10' : datum.value == 1 ? '1' : datum.value == 0.1 ? '0.1' : datum.value == 0.01 ? '0.01' : datum.value == 0.001 ? '0.001' : ''",
            "labelPadding": 41, "labelOverlap": false, "labelFlush": false, "labelBaseline": "middle",
            "title": null
          }
        },
        "color": {
          "field": "series", "type": "nominal",
          "scale": {"domain": ["th12", "th08", "th06", "th04", "th02"], "range": ["#ff0000", "#00ff00", "#0000ff", "#ff00ff", "#00ffff"]},
          "legend": {
            "orient": "none", "legendX": 615, "legendY": 5, "title": null,
            "labelFontSize": 33, "labelColor": "#000", "labelOffset": 0, "labelLimit": 300,
            "symbolSize": 0, "symbolOpacity": 0, "symbolStrokeWidth": 0, "rowPadding": 0,
            "labelExpr": "datum.label == 'th12' ? 'θ=1.2' : datum.label == 'th08' ? 'θ=0.8' : datum.label == 'th06' ? 'θ=0.6' : datum.label == 'th04' ? 'θ=0.4' : 'θ=0.2'"
          }
        },
        "strokeDash": {
          "field": "series", "type": "nominal",
          "scale": {"domain": ["th12", "th08", "th06", "th04", "th02"], "range": [[1, 0], [6, 4], [2, 3], [1, 2], [6, 3, 1, 3]]},
          "legend": null
        }
      }
    },
    {
      "mark": {"type": "point", "opacity": 0},
      "encoding": {
        "x": {
          "field": "t", "type": "quantitative",
          "scale": {"domain": [0, 100], "nice": false, "zero": false},
          "axis": {"orient": "top", "values": [0, 10, 20, 30, 40, 50, 60, 70, 80, 90, 100], "tickSize": -16, "labels": false, "title": null}
        },
        "y": {
          "field": "value", "type": "quantitative",
          "scale": {"type": "log", "domain": [0.001, 10], "nice": false},
          "axis": {
            "orient": "right",
            "values": [0.001,0.002,0.003,0.004,0.005,0.006,0.007,0.008,0.009,0.01,0.02,0.03,0.04,0.05,0.06,0.07,0.08,0.09,0.1,0.2,0.3,0.4,0.5,0.6,0.7,0.8,0.9,1,2,3,4,5,6,7,8,9,10],
            "tickSize": {"condition": {"test": "indexof([0.001,0.01,0.1,1,10], datum.value) >= 0", "value": -16}, "value": -9},
            "labels": false, "title": null
          }
        }
      }
    }
  ],
  "resolve": {"axis": {"x": "independent", "y": "independent"}},
  "config": {
    "font": "Liberation Sans",
    "background": "#ffffff",
    "view": {"stroke": "#000000", "strokeWidth": 2},
    "axis": {
      "domain": false, "grid": false,
      "tickColor": "#000000", "tickWidth": 1.5,
      "labelFontSize": 33, "labelColor": "#000000", "labelFont": "Liberation Sans",
      "titleFontSize": 34, "titleFontWeight": "normal", "titleColor": "#000000", "titleFont": "Liberation Sans"
    },
    "legend": {"labelFont": "Liberation Sans"}
  }
}
